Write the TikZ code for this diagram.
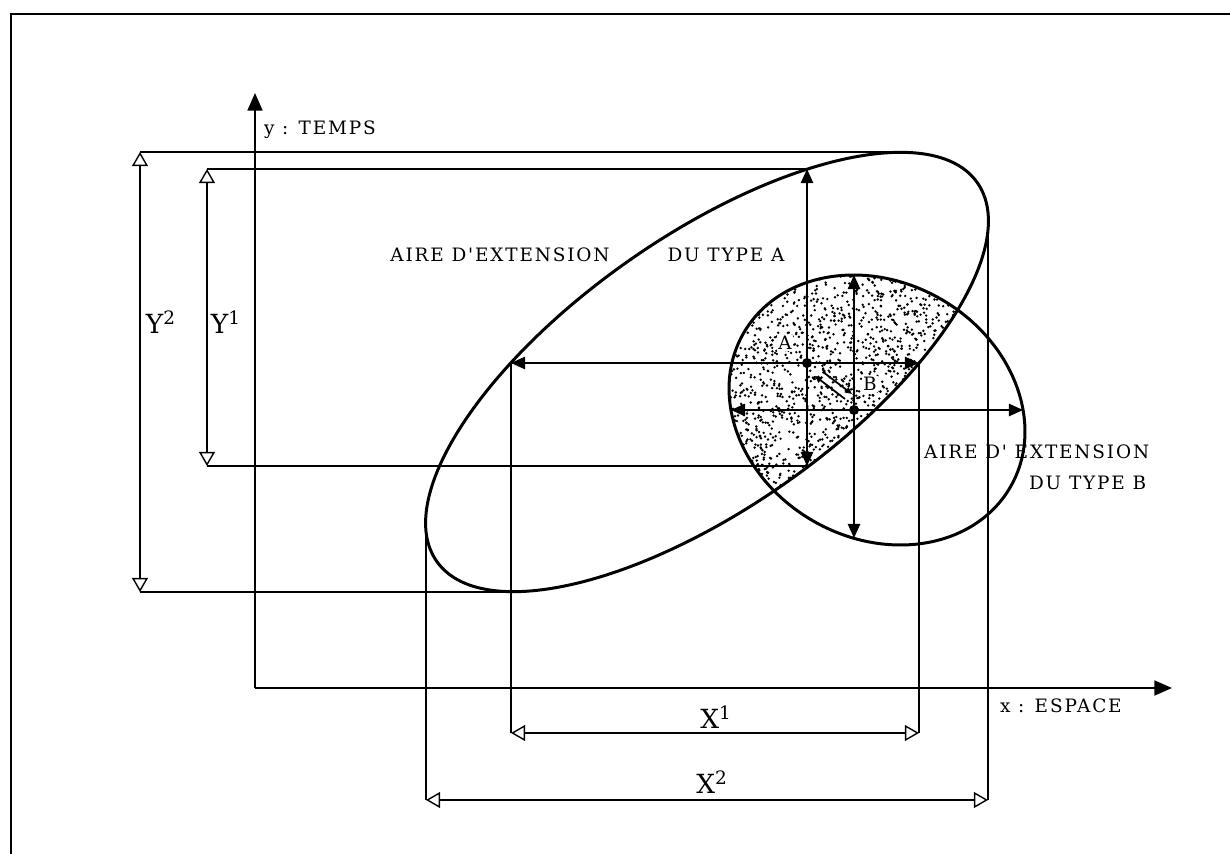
\documentclass[tikz,border=0pt]{standalone}
\usepackage{fontspec}
\newfontfamily\lblfont{DejaVu Serif}[LetterSpace=10]
\usetikzlibrary{arrows.meta}
\begin{document}
\begin{tikzpicture}[x=0.02cm, y=-0.02cm,
every node/.style={font=\lblfont\fontsize{10.5}{12}\selectfont, inner sep=1pt},
big/.style={font=\lblfont\fontsize{15}{17}\selectfont},
axis/.style={line width=1.1pt, -{Triangle[length=10pt,width=8.5pt]}},
ell/.style={line width=1.7pt},
span/.style={line width=1pt, {Triangle[length=8pt,width=7pt]}-{Triangle[length=8pt,width=7pt]}},
dim/.style={line width=0.8pt, {Triangle[open,length=8pt,width=9pt]}-{Triangle[open,length=8pt,width=9pt]}},
ext/.style={line width=0.7pt},
tick/.style={line width=1pt, -{Triangle[length=4pt,width=3.5pt]}},
blob/.style={fill=black},
clear/.style={fill=white, inner sep=0.5pt}]
\useasboundingbox (0,0) rectangle (1230,854);
\coordinate (f1) at (1230,14);
\coordinate (f2) at (11,14);
\coordinate (f3) at (11,854);
\draw[line width=1.1pt] (f1) -- (f2) -- (f3);
\coordinate (o) at (255,688);
\coordinate (yend) at (255,93);
\coordinate (xend) at (1172,688);
\draw[axis] (o) -- (yend);
\draw[axis] (o) -- (xend);
\node[anchor=west] (ylab) at (262,130) {y : TEMPS};
\node[anchor=west] (xlab) at (998,706) {x : ESPACE};
\coordinate (ca) at (707,372);
\coordinate (cb) at (877,410);
\begin{scope}
\clip[rotate around={35:(ca)}] (ca) ellipse [x radius=330, y radius=136];
\clip[rotate around={-30:(cb)}] (cb) ellipse [x radius=154, y radius=128];
\pgfmathsetseed{4}
\foreach \i in {1,...,2100}
  \fill ({720+250*rnd},{262+240*rnd}) circle [radius=1.35];
\end{scope}
\draw[ell, rotate around={35:(ca)}] (ca) ellipse [x radius=330, y radius=136];
\draw[ell, rotate around={-30:(cb)}] (cb) ellipse [x radius=154, y radius=128];
\coordinate (pa) at (807,363);
\coordinate (pb) at (854,410);
\coordinate (an) at (900,152);
\coordinate (as) at (514,592);
\coordinate (aw) at (426,523);
\coordinate (ae) at (988,221);
\coordinate (at) at (807,169);
\coordinate (ab) at (807,466);
\coordinate (al) at (511,363);
\coordinate (ar) at (919,363);
\coordinate (bt) at (854,275);
\coordinate (bb) at (854,538);
\coordinate (bl) at (731,410);
\coordinate (br) at (1023,410);
\node[clear] (alab) at (785,343) {A};
\node[clear] (blab) at (870,384) {B};
\draw[span] (al) -- (ar);
\draw[span] (at) -- (ab);
\draw[span] (bl) -- (br);
\draw[span] (bt) -- (bb);
\fill[blob] (pa) circle [radius=5];
\fill[blob] (pb) circle [radius=5];
\coordinate (m1) at (845,399);
\coordinate (m2) at (815,376);
\coordinate (m3) at (823,372);
\coordinate (m4) at (852,394);
\draw[tick] (m1) -- (m2);
\draw[tick] (m3) -- (m4);
\coordinate (x1l) at (511,733);
\coordinate (x1r) at (919,733);
\coordinate (x2l) at (426,800);
\coordinate (x2r) at (988,800);
\coordinate (y1t) at (207,169);
\coordinate (y1b) at (207,466);
\coordinate (y2t) at (140,152);
\coordinate (y2b) at (140,592);
\draw[ext] (al) -- (x1l);
\draw[ext] (ar) -- (x1r);
\draw[ext] (aw) -- (x2l);
\draw[ext] (ae) -- (x2r);
\draw[ext] (y1t) -- (at);
\draw[ext] (y1b) -- (ab);
\draw[ext] (y2t) -- (an);
\draw[ext] (y2b) -- (as);
\draw[dim] (x1l) -- (x1r);
\draw[dim] (x2l) -- (x2r);
\draw[dim] (y1t) -- (y1b);
\draw[dim] (y2t) -- (y2b);
\node[big] (x1lab) at (716,717) {X\textsuperscript{1}};
\node[big] (x2lab) at (712,782) {X\textsuperscript{2}};
\node[big] (y1lab) at (226,322) {Y\textsuperscript{1}};
\node[big] (y2lab) at (161,322) {Y\textsuperscript{2}};
\node (aireA) at (500,255) {AIRE D'EXTENSION};
\node (typeA) at (726,255) {DU TYPE A};
\node[anchor=west] (aireB) at (922,452) {AIRE D' EXTENSION};
\node[anchor=west] (typeB) at (1027,483) {DU TYPE B};
\end{tikzpicture}
\end{document}
